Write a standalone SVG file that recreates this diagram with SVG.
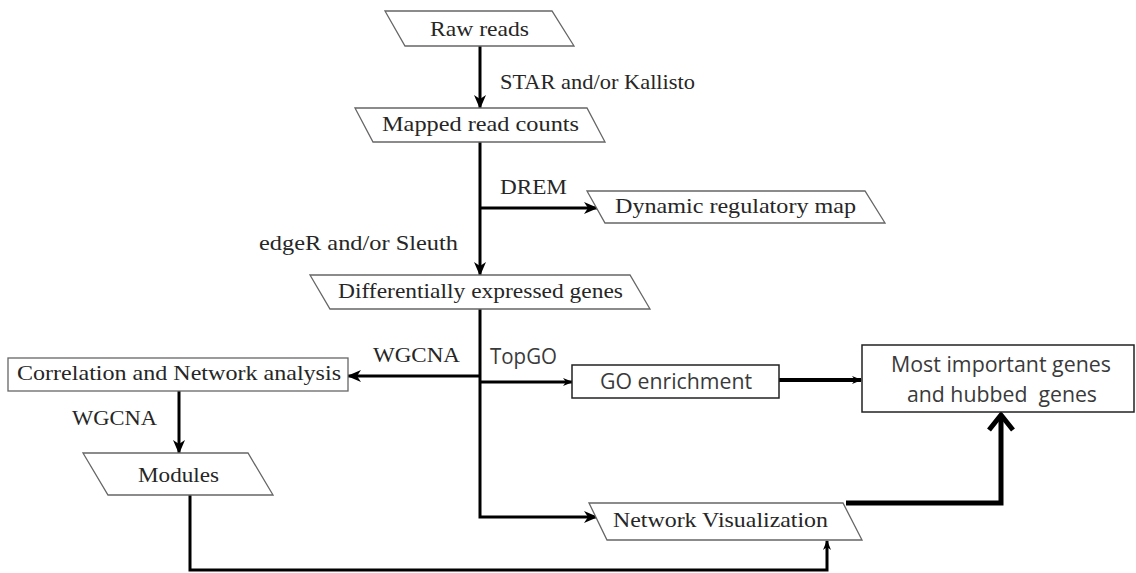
<svg xmlns="http://www.w3.org/2000/svg" width="1136" height="573" viewBox="0 0 1136 573">
<defs>
<style>
.node{fill:#fff;stroke:#666;stroke-width:1.3}
.box{fill:#fff;stroke:#222;stroke-width:1.5}
.t{font-family:"Liberation Serif","Times New Roman",serif;font-size:21px;fill:#262626}
.s{font-family:"Open Sans","Liberation Sans",Arial,sans-serif;font-size:21px;fill:#3a3a3a}
.c{fill:none;stroke:#000;stroke-width:3}
</style>
<marker id="ah" markerUnits="userSpaceOnUse" viewBox="0 0 14 12" refX="13" refY="6" markerWidth="14" markerHeight="12" orient="auto">
<path d="M0,0 L14,6 L0,12 L4,6 z" fill="#000"/>
</marker>
<marker id="ahs" markerUnits="userSpaceOnUse" viewBox="0 0 10 8" refX="9" refY="4" markerWidth="10" markerHeight="8" orient="auto">
<path d="M0,0 L10,4 L0,8 L3,4 z" fill="#000"/>
</marker>
</defs>
<rect width="1136" height="573" fill="#fff"/>
<g id="connectors">
<path class="c" d="M480,46 V108" marker-end="url(#ah)"/>
<path class="c" d="M480,142 V275" marker-end="url(#ah)"/>
<path class="c" d="M480,208 H597" marker-end="url(#ah)"/>
<path class="c" d="M480,309 V517 H597" marker-end="url(#ah)"/>
<path class="c" d="M480,376 H348" marker-end="url(#ah)"/>
<path class="c" d="M480,382 H572" marker-end="url(#ahs)"/>
<path class="c" d="M179,391 V453" marker-end="url(#ah)"/>
<path class="c" d="M190,495 V570 H827 V541" marker-end="url(#ahs)"/>
<path class="c" style="stroke-width:4" d="M779,380 H861" marker-end="url(#ahs)"/>
<path class="c" style="stroke-width:5" d="M846,503 H1001 V416"/>
<path class="c" style="stroke-width:5;stroke-linejoin:miter" d="M989,430 L1001,415 L1013,430"/>
</g>
<g id="raw-reads">
<polygon class="node" points="385,11 552,11 574,46 405,46"/>
<text class="t" x="430" y="36" textLength="99" lengthAdjust="spacingAndGlyphs">Raw reads</text>
</g>
<g id="label-star">
<text class="t" x="500" y="89" textLength="195" lengthAdjust="spacingAndGlyphs">STAR and/or Kallisto</text>
</g>
<g id="mapped-read-counts">
<polygon class="node" points="355,108 587,108 605,142 373,142"/>
<text class="t" x="382" y="131" textLength="197" lengthAdjust="spacingAndGlyphs">Mapped read counts</text>
</g>
<g id="label-drem">
<text class="t" x="500" y="194" textLength="67" lengthAdjust="spacingAndGlyphs">DREM</text>
</g>
<g id="dynamic-regulatory-map">
<polygon class="node" points="587,191 865,191 885,223 605,223"/>
<text class="t" x="615" y="213" textLength="241" lengthAdjust="spacingAndGlyphs">Dynamic regulatory map</text>
</g>
<g id="label-edger">
<text class="t" x="259" y="250" textLength="199" lengthAdjust="spacingAndGlyphs">edgeR and/or Sleuth</text>
</g>
<g id="differentially-expressed-genes">
<polygon class="node" points="310,275 630,275 650,309 330,309"/>
<text class="t" x="338" y="298" textLength="285" lengthAdjust="spacingAndGlyphs">Differentially expressed genes</text>
</g>
<g id="label-wgcna-1">
<text class="t" x="373" y="362" textLength="87" lengthAdjust="spacingAndGlyphs">WGCNA</text>
</g>
<g id="label-topgo">
<text class="s" x="490" y="364" textLength="67" lengthAdjust="spacingAndGlyphs">TopGO</text>
</g>
<g id="correlation-network">
<rect class="node" x="8" y="358" width="340" height="33"/>
<text class="t" x="17" y="380" textLength="324" lengthAdjust="spacingAndGlyphs">Correlation and Network analysis</text>
</g>
<g id="go-enrichment">
<rect class="box" x="572" y="365" width="207" height="33"/>
<text class="s" x="600" y="389" textLength="152" lengthAdjust="spacingAndGlyphs">GO enrichment</text>
</g>
<g id="most-important-genes">
<rect class="box" x="862" y="345" width="272" height="67"/>
<text class="s" x="891" y="372" textLength="220" lengthAdjust="spacingAndGlyphs">Most important genes</text>
<text class="s" x="907" y="402" textLength="190" lengthAdjust="spacingAndGlyphs" xml:space="preserve">and hubbed  genes</text>
</g>
<g id="label-wgcna-2">
<text class="t" x="72" y="425" textLength="85" lengthAdjust="spacingAndGlyphs">WGCNA</text>
</g>
<g id="modules">
<polygon class="node" points="83,453 248,453 273,495 108,495"/>
<text class="t" x="138" y="482" textLength="81" lengthAdjust="spacingAndGlyphs">Modules</text>
</g>
<g id="network-visualization">
<polygon class="node" points="589,503 843,503 862,540 607,540"/>
<text class="t" x="613" y="527" textLength="215" lengthAdjust="spacingAndGlyphs">Network Visualization</text>
</g>
</svg>
